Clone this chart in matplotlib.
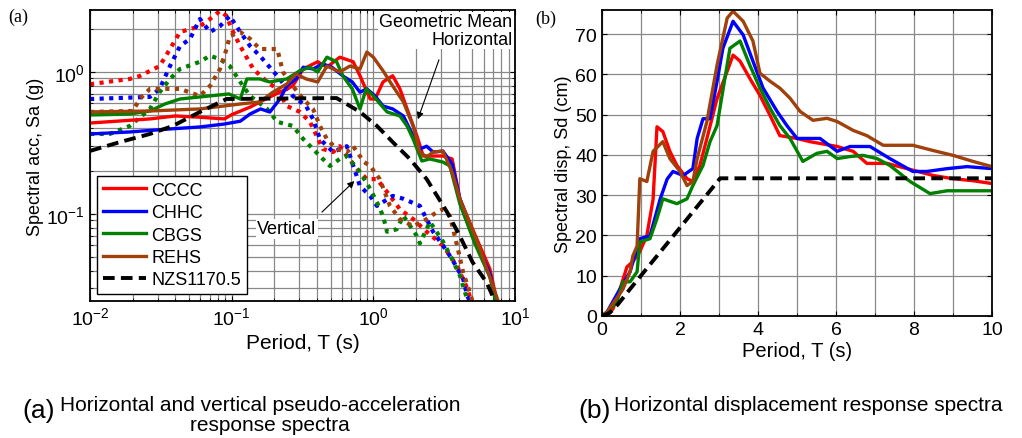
import numpy as np
import matplotlib.pyplot as plt
from matplotlib.ticker import MultipleLocator

plt.rcParams['font.family'] = ['Liberation Sans', 'DejaVu Sans']
plt.rcParams['mathtext.fontset'] = 'custom'
plt.rcParams['mathtext.rm'] = 'Liberation Sans'

# (a) horizontal pseudo-acceleration spectra, T (s) and Sa (g)
cccc_h_T = [0.01, 0.0265, 0.04, 0.0597, 0.089, 0.1, 0.135, 0.186, 0.27, 0.32, 0.405, 0.47, 0.58, 0.72, 0.805, 0.95, 1.03, 1.17, 1.37, 1.54, 1.73, 2.03, 2.25, 2.64, 3.1, 3.6, 4.08, 5.2, 6.65, 7.45]
cccc_h_Sa = [0.437, 0.467, 0.49, 0.48, 0.467, 0.50, 0.566, 0.667, 0.797, 1.05, 1.18, 1.08, 1.27, 1.18, 0.94, 0.645, 0.645, 0.85, 0.94, 0.76, 0.55, 0.355, 0.256, 0.256, 0.256, 0.244, 0.128, 0.072, 0.041, 0.0244]
chhc_h_T = [0.01, 0.0191, 0.0367, 0.0597, 0.089, 0.115, 0.135, 0.16, 0.186, 0.219, 0.245, 0.285, 0.32, 0.375, 0.44, 0.51, 0.61, 0.71, 0.805, 0.9, 1.03, 1.17, 1.37, 1.63, 1.91, 2.13, 2.38, 2.64, 3.1, 3.6, 4.08, 5.2, 6.65, 7.3]
chhc_h_Sa = [0.366, 0.378, 0.397, 0.41, 0.43, 0.45, 0.506, 0.549, 0.522, 0.645, 0.797, 0.893, 1.08, 1.05, 1.14, 1.08, 0.937, 0.85, 0.72, 0.76, 0.677, 0.576, 0.549, 0.49, 0.355, 0.287, 0.30, 0.273, 0.277, 0.225, 0.128, 0.067, 0.038, 0.0244]
cbgs_h_T = [0.01, 0.0191, 0.0265, 0.0338, 0.0432, 0.0597, 0.0955, 0.115, 0.128, 0.158, 0.186, 0.245, 0.303, 0.357, 0.405, 0.47, 0.55, 0.61, 0.71, 0.805, 0.89, 1.0, 1.25, 1.54, 1.73, 1.91, 2.2, 2.5, 3.1, 3.47, 4.08, 5.2, 6.65, 7.3]
cbgs_h_Sa = [0.498, 0.506, 0.531, 0.595, 0.645, 0.667, 0.70, 0.645, 0.893, 0.893, 0.85, 0.893, 1.02, 1.08, 1.0, 1.27, 1.18, 0.937, 0.76, 0.549, 0.76, 0.677, 0.523, 0.49, 0.416, 0.337, 0.236, 0.244, 0.232, 0.218, 0.118, 0.062, 0.036, 0.0244]
rehs_h_T = [0.01, 0.0265, 0.0597, 0.115, 0.158, 0.195, 0.245, 0.285, 0.335, 0.405, 0.47, 0.58, 0.684, 0.805, 0.9, 1.0, 1.17, 1.37, 1.63, 1.91, 2.13, 2.38, 2.64, 3.1, 3.6, 4.08, 5.65, 7.6]
rehs_h_Sa = [0.523, 0.531, 0.549, 0.595, 0.615, 0.72, 0.823, 0.968, 0.893, 0.85, 1.1, 1.0, 1.1, 1.05, 1.38, 1.27, 1.02, 0.797, 0.615, 0.416, 0.273, 0.252, 0.273, 0.277, 0.197, 0.128, 0.057, 0.0244]

# (a) vertical pseudo-acceleration spectra
cccc_v_T = [0.01, 0.0191, 0.0225, 0.031, 0.0367, 0.0432, 0.0597, 0.0703, 0.0827, 0.092, 0.1, 0.115, 0.142, 0.178, 0.21, 0.245, 0.303, 0.357, 0.44, 0.52, 0.58, 0.65, 0.77, 0.9, 1.06, 1.25, 1.54, 1.91, 2.38, 3.1, 3.9, 4.6, 4.9]
cccc_v_Sa = [0.82, 0.893, 0.937, 1.1, 1.45, 1.91, 2.1, 2.36, 2.69, 2.48, 2.0, 1.52, 1.05, 0.85, 0.76, 0.576, 0.523, 0.445, 0.287, 0.273, 0.30, 0.256, 0.207, 0.176, 0.176, 0.143, 0.108, 0.092, 0.075, 0.06, 0.043, 0.03, 0.0244]
chhc_v_T = [0.01, 0.0265, 0.031, 0.0367, 0.0432, 0.0508, 0.0597, 0.0703, 0.0827, 0.097, 0.115, 0.135, 0.158, 0.21, 0.27, 0.335, 0.375, 0.42, 0.52, 0.65, 0.805, 0.95, 1.06, 1.37, 1.63, 2.13, 2.64, 3.1, 3.6, 4.3, 4.6, 4.8]
chhc_v_Sa = [0.645, 0.667, 0.76, 1.1, 1.52, 1.71, 2.36, 1.91, 2.1, 2.48, 1.91, 1.52, 1.3, 0.937, 0.677, 0.576, 0.467, 0.337, 0.273, 0.30, 0.157, 0.134, 0.114, 0.134, 0.128, 0.114, 0.075, 0.06, 0.048, 0.035, 0.0265, 0.0244]
cbgs_v_T = [0.01, 0.0138, 0.0191, 0.0265, 0.031, 0.0367, 0.0432, 0.0597, 0.0703, 0.0827, 0.097, 0.115, 0.135, 0.178, 0.21, 0.27, 0.32, 0.375, 0.44, 0.494, 0.58, 0.65, 0.805, 0.95, 1.06, 1.17, 1.25, 1.46, 1.63, 2.03, 2.13, 2.51, 3.1, 3.6, 4.08, 4.6]
cbgs_v_Sa = [0.366, 0.366, 0.417, 0.549, 0.72, 0.893, 1.05, 1.18, 1.3, 1.23, 1.1, 0.85, 0.677, 0.549, 0.445, 0.417, 0.337, 0.287, 0.244, 0.218, 0.244, 0.256, 0.197, 0.150, 0.121, 0.097, 0.075, 0.078, 0.097, 0.07, 0.062, 0.088, 0.064, 0.048, 0.037, 0.025]
rehs_v_T = [0.01, 0.02, 0.0225, 0.0265, 0.0432, 0.0597, 0.0703, 0.0827, 0.092, 0.097, 0.115, 0.135, 0.158, 0.21, 0.23, 0.27, 0.32, 0.375, 0.42, 0.47, 0.55, 0.65, 0.72, 0.86, 0.95, 1.11, 1.31, 1.54, 1.91, 2.38, 2.8, 3.1, 3.47, 3.9, 4.3, 4.8, 5.0]
rehs_v_Sa = [0.523, 0.531, 0.645, 0.76, 0.76, 0.677, 0.797, 1.05, 1.45, 1.79, 1.91, 1.71, 1.45, 1.45, 1.0, 0.797, 0.645, 0.549, 0.417, 0.337, 0.287, 0.273, 0.30, 0.232, 0.218, 0.176, 0.114, 0.092, 0.082, 0.092, 0.103, 0.108, 0.097, 0.06, 0.039, 0.028, 0.0244]

nzs_a_T = [0.01, 0.0163, 0.0265, 0.0385, 0.0597, 0.092, 0.55, 0.805, 1.06, 1.37, 1.81, 2.38, 3.3, 4.08, 5.0, 6.3, 7.2]
nzs_a_Sa = [0.278, 0.321, 0.366, 0.417, 0.523, 0.645, 0.655, 0.523, 0.417, 0.321, 0.244, 0.176, 0.104, 0.070, 0.046, 0.033, 0.0244]

# (b) horizontal displacement spectra, T (s) and Sd (cm)
cccc_d_T = [0, 0.28, 0.46, 0.64, 0.79, 0.97, 1.15, 1.31, 1.41, 1.56, 1.74, 1.92, 2.18, 2.33, 2.51, 2.69, 2.95, 3.21, 3.36, 3.54, 3.79, 4.05, 4.31, 4.56, 5.0, 5.33, 6.03, 6.44, 6.79, 7.31, 7.82, 8.49, 9.0, 9.51, 10]
cccc_d_Sd = [0, 1.7, 6.7, 12.2, 13.5, 16, 20, 29, 47, 45.8, 40.9, 37.4, 34.1, 33.4, 37.4, 44.1, 54, 60.8, 64.8, 63.3, 59, 54.8, 49.8, 44.8, 44.1, 43.3, 42.1, 40.9, 37.9, 37.9, 36.6, 34.9, 34.1, 33.6, 32.9]
chhc_d_T = [0, 0.13, 0.46, 0.72, 0.97, 1.23, 1.49, 1.67, 1.82, 2.08, 2.33, 2.44, 2.59, 2.77, 2.95, 3.1, 3.36, 3.62, 3.87, 4.13, 4.49, 4.74, 5.0, 5.59, 6.03, 6.36, 6.87, 7.38, 7.97, 8.33, 8.85, 9.36, 10]
chhc_d_Sd = [0, 1, 6.7, 11, 19.2, 19.9, 29, 34, 35.9, 34.9, 36.6, 44.1, 49, 49, 58.3, 66.5, 73.2, 69.8, 63.3, 56.6, 50.8, 47.3, 44.1, 44.1, 40.9, 42.1, 42.1, 39.1, 35.9, 35.9, 36.6, 37.1, 36.6]
cbgs_d_T = [0, 0.13, 0.38, 0.54, 0.72, 0.90, 0.97, 1.23, 1.41, 1.56, 1.92, 2.18, 2.33, 2.59, 2.77, 2.95, 3.28, 3.54, 3.79, 4.05, 4.31, 4.56, 4.82, 5.15, 5.51, 5.77, 6.03, 6.36, 6.69, 7.05, 7.38, 7.9, 8.41, 8.85, 10]
cbgs_d_Sd = [0, 1, 3.5, 8.5, 8.5, 11, 18.4, 19.2, 24.2, 29.1, 27.9, 29.1, 32.4, 37.4, 43.3, 47.3, 66.5, 68.3, 62.3, 56.6, 51.6, 47.3, 44.1, 38.4, 40.4, 40.9, 39.1, 39.6, 39.9, 39.1, 37.4, 33.4, 30.4, 31.1, 31.1]
rehs_d_T = [0, 0.13, 0.54, 0.72, 0.79, 0.90, 0.97, 1.15, 1.31, 1.56, 1.74, 2.0, 2.18, 2.33, 2.44, 2.69, 2.95, 3.21, 3.36, 3.62, 3.87, 4.05, 4.31, 4.56, 4.82, 5.08, 5.41, 5.77, 6.03, 6.44, 6.79, 7.21, 7.97, 8.49, 9.0, 9.51, 10]
rehs_d_Sd = [0, 1, 6.7, 11, 14.9, 17.4, 34.1, 33.4, 40.9, 43.3, 39.1, 35.9, 32.4, 33.4, 39.1, 48.3, 62.3, 74, 75.7, 73.2, 68.3, 60.3, 58.3, 56.6, 54.1, 50.8, 48.6, 49.1, 48.3, 46.1, 44.8, 42.4, 42.4, 41.1, 39.9, 38.4, 37.1]
nzs_d_T = [0, 0.2, 0.4, 0.72, 3.03, 10]
nzs_d_Sd = [0, 0.8, 2.8, 6.7, 34.2, 34.2]

names = ['CCCC', 'CHHC', 'CBGS', 'REHS']
colors = ['#ff0000', '#0000ff', '#008000', '#a0400a']

fig = plt.figure(figsize=(10.22, 4.39), dpi=100)

# ---- (a) ----
ax1 = fig.add_axes([90/1022, 1-302/439, 425/1022, 291/439])
vert = [(cccc_v_T, cccc_v_Sa), (chhc_v_T, chhc_v_Sa), (cbgs_v_T, cbgs_v_Sa), (rehs_v_T, rehs_v_Sa)]
hor = [(cccc_h_T, cccc_h_Sa), (chhc_h_T, chhc_h_Sa), (cbgs_h_T, cbgs_h_Sa), (rehs_h_T, rehs_h_Sa)]
for (t, s), c in zip(vert, colors):
    ax1.loglog(t, s, color=c, lw=3, linestyle=(0, (1, 1.3)))
for (t, s), c, n in zip(hor, colors, names):
    ax1.loglog(t, s, color=c, lw=2.4, label=n)
ax1.loglog(nzs_a_T, nzs_a_Sa, 'k--', lw=2.8, dashes=(3, 1.6), label='NZS1170.5')
ax1.set_xlim(0.01, 10)
ax1.set_ylim(0.0244, 2.73)
ax1.grid(True, which='both', color='#888888', lw=0.9)
ax1.tick_params(which='both', direction='in', top=True, right=True, labelsize=14)
ax1.set_xlabel('Period, T (s)', fontsize=15, labelpad=4)
ax1.set_ylabel('Spectral acc, Sa (g)', fontsize=13, labelpad=2)
for sp in ax1.spines.values():
    sp.set_linewidth(1.3)
leg = ax1.legend(loc='lower left', fontsize=13, handlelength=2.4, framealpha=1,
                 fancybox=False, edgecolor='black', borderaxespad=0.4,
                 labelspacing=0.3, handletextpad=0.3, borderpad=0.3)
leg.get_frame().set_linewidth(1.0)

ax1.text(9.6, 2.6, 'Geometric Mean\nHorizontal', ha='right', va='top', fontsize=13,
         linespacing=1.05, bbox=dict(fc='white', ec='none', pad=1))
ax1.annotate('', xy=(2.03, 0.445), xytext=(2.95, 1.27),
             arrowprops=dict(arrowstyle='-|>', color='black', lw=0.8, mutation_scale=10))
ax1.text(0.245, 0.0784, 'Vertical', ha='center', va='center', fontsize=13,
         bbox=dict(fc='white', ec='none', pad=1))
ax1.annotate('', xy=(0.76, 0.176), xytext=(0.42, 0.1),
             arrowprops=dict(arrowstyle='-|>', color='black', lw=0.8, mutation_scale=10))
fig.text(8/1022, 1-22/439, '(a)', family='Liberation Serif', fontsize=13)

# ---- (b) ----
ax2 = fig.add_axes([602/1022, 1-317/439, 390/1022, 306/439])
disp = [(cccc_d_T, cccc_d_Sd), (chhc_d_T, chhc_d_Sd), (cbgs_d_T, cbgs_d_Sd), (rehs_d_T, rehs_d_Sd)]
for (t, s), c in zip(disp, colors):
    ax2.plot(t, s, color=c, lw=2.4)
ax2.plot(nzs_d_T, nzs_d_Sd, 'k--', lw=2.8, dashes=(3, 1.6))
ax2.set_xlim(0, 10)
ax2.set_ylim(0, 76)
ax2.xaxis.set_major_locator(MultipleLocator(2))
ax2.xaxis.set_minor_locator(MultipleLocator(1))
ax2.yaxis.set_major_locator(MultipleLocator(10))
ax2.grid(True, which='both', color='#888888', lw=0.9)
ax2.tick_params(which='both', direction='in', top=True, right=True, labelsize=14)
ax2.set_xlabel('Period, T (s)', fontsize=14.5, labelpad=2)
ax2.set_ylabel('Spectral disp, Sd (cm)', fontsize=13, labelpad=2)
for sp in ax2.spines.values():
    sp.set_linewidth(1.3)
fig.text(535/1022, 1-24/439, '(b)', family='Liberation Serif', fontsize=13)

# captions
fig.text(22/1022, 1-418/439, '(a)', fontsize=19)
fig.text(60/1022, 1-411/439, 'Horizontal and vertical pseudo-acceleration', fontsize=15)
fig.text(270/1022, 1-431/439, 'response spectra', fontsize=15, ha='center')
fig.text(578/1022, 1-418/439, '(b)', fontsize=19)
fig.text(614/1022, 1-411/439, 'Horizontal displacement response spectra', fontsize=15)

plt.savefig('out.png', dpi=100)
